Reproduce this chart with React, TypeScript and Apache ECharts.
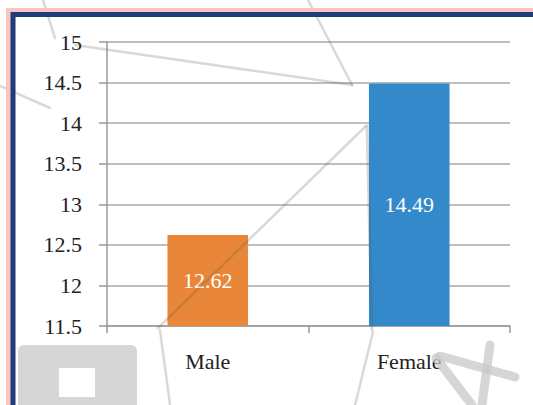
import React, { useEffect, useRef } from "react";
import * as echarts from "echarts";

const categories = ["Male", "Female"];
const values = [12.62, 14.49];
const barColors = ["#E8873A", "#3489CA"];
const yMin = 11.5;
const yMax = 15;
const yInterval = 0.5;

export default function App() {
  const ref = useRef<HTMLDivElement>(null);
  useEffect(() => {
    document.body.style.margin = "0";
    const chart = echarts.init(ref.current!, null, { renderer: "svg" });
    const font = "Liberation Serif";
    const wm = "rgba(90,80,70,0.22)";
    const wmLine = (x1: number, y1: number, x2: number, y2: number, w = 2.5, c = wm) => ({
      type: "line",
      z: 90,
      silent: true,
      shape: { x1, y1, x2, y2 },
      style: { stroke: c, lineWidth: w, lineCap: "round" },
    });
    const wmBlock = "rgba(200,200,200,0.75)";
    chart.setOption({
      animation: false,
      backgroundColor: "#ffffff",
      grid: { left: 107, right: 23, top: 42, bottom: 79 },
      xAxis: {
        type: "category",
        data: categories,
        axisLine: { show: true, lineStyle: { color: "#9a9a9a", width: 1.5 } },
        axisTick: { show: true, length: 7, alignWithLabel: false, lineStyle: { color: "#9a9a9a", width: 1.5 } },
        axisLabel: { color: "#222", fontFamily: font, fontSize: 22, margin: 24 },
      },
      yAxis: {
        type: "value",
        min: yMin,
        max: yMax,
        interval: yInterval,
        axisLine: { show: true, lineStyle: { color: "#9a9a9a", width: 1.5 } },
        axisTick: { show: true, length: 8, lineStyle: { color: "#9a9a9a", width: 1.5 } },
        splitLine: { show: true, lineStyle: { color: "#a8a8a8", width: 1.5 } },
        axisLabel: { color: "#222", fontFamily: font, fontSize: 22, margin: 25 },
      },
      series: [
        {
          type: "bar",
          barWidth: "40%",
          data: values.map((v, i) => ({ value: v, itemStyle: { color: barColors[i] } })),
          label: {
            show: true,
            position: "inside",
            color: "#ffffff",
            fontFamily: font,
            fontSize: 22,
            formatter: (p: any) => p.value.toFixed(2),
          },
        },
      ],
      graphic: [
        wmLine(43, 0, 55, 38),
        wmLine(75, 45, 352, 85),
        wmLine(308, 0, 352, 85),
        wmLine(0, 86, 50, 108),
        wmLine(158, 328, 366, 126),
        wmLine(367, 126, 372, 330, 3),
        wmLine(373, 332, 355, 405),
        wmLine(160, 330, 170, 405),
        {
          type: "rect",
          z: 90,
          silent: true,
          shape: { x: 18, y: 345, width: 119, height: 70, r: 6 },
          style: { fill: wmBlock },
        },
        {
          type: "rect",
          z: 91,
          silent: true,
          shape: { x: 59, y: 368, width: 36, height: 29 },
          style: { fill: "#ffffff" },
        },
        wmLine(436, 358, 472, 405, 9, wmBlock),
        wmLine(440, 356, 515, 377, 9, wmBlock),
        wmLine(490, 345, 482, 405, 9, wmBlock),
        {
          type: "rect",
          z: 100,
          silent: true,
          shape: { x: 10.5, y: 12.5, width: 600, height: 500 },
          style: { fill: "none", stroke: "#f8c4c4", lineWidth: 9 },
        },
        {
          type: "rect",
          z: 101,
          silent: true,
          shape: { x: 13, y: 14.5, width: 600, height: 500 },
          style: { fill: "none", stroke: "#1f3b78", lineWidth: 5 },
        },
      ],
    });
    return () => chart.dispose();
  }, []);
  return <div ref={ref} style={{ position: "absolute", left: 0, top: 0, width: 533, height: 405 }} />;
}
